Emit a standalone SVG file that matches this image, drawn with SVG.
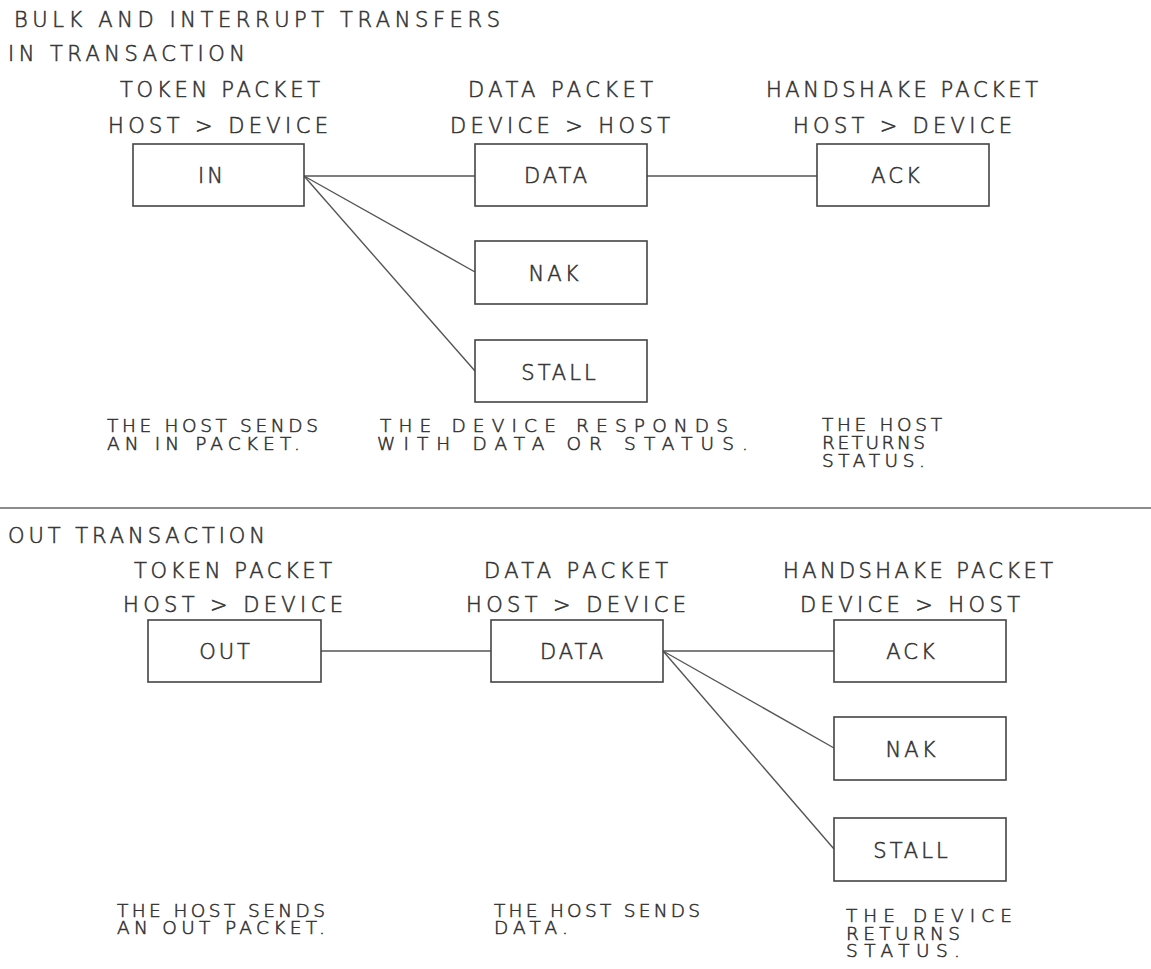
<svg xmlns="http://www.w3.org/2000/svg" width="1151" height="969" viewBox="0 0 1151 969">
  <style>
    text { font-family: "DejaVu Sans", "Liberation Sans", sans-serif; font-size: 21px; fill: #333333; stroke: #333333; stroke-width: 0.55; font-weight: 200; }
    .lbl { text-anchor: middle; letter-spacing: 3px; }
    .note { font-size: 18.5px; }
    .box { fill: #ffffff; stroke: #444444; stroke-width: 1.6; }
    .wire { stroke: #555555; stroke-width: 1.4; fill: none; }
    .rule { stroke: #666666; stroke-width: 1.4; }
  </style>
  <rect width="1151" height="969" fill="#ffffff"/>

  <!-- headings -->
  <g id="headings">
    <text x="14" y="27" textLength="486" lengthAdjust="spacing">BULK AND INTERRUPT TRANSFERS</text>
    <text x="8" y="61" textLength="237" lengthAdjust="spacing">IN TRANSACTION</text>
    <text x="8" y="543" textLength="257" lengthAdjust="spacing">OUT TRANSACTION</text>
  </g>

  <!-- IN transaction column headers -->
  <g id="in-headers">
    <text x="120" y="97" textLength="200" lengthAdjust="spacing">TOKEN PACKET</text>
    <text x="108" y="133" textLength="220" lengthAdjust="spacing">HOST &gt; DEVICE</text>
    <text x="468" y="97" textLength="185" lengthAdjust="spacing">DATA PACKET</text>
    <text x="450" y="133" textLength="220" lengthAdjust="spacing">DEVICE &gt; HOST</text>
    <text x="766" y="97" textLength="272" lengthAdjust="spacing">HANDSHAKE PACKET</text>
    <text x="793" y="133" textLength="219" lengthAdjust="spacing">HOST &gt; DEVICE</text>
  </g>

  <!-- connectors -->
  <g id="connectors">
    <line class="wire" x1="304" y1="176" x2="475" y2="176"/>
    <line class="wire" x1="304" y1="176" x2="475" y2="272"/>
    <line class="wire" x1="304" y1="176" x2="475" y2="371"/>
    <line class="wire" x1="647" y1="176" x2="817" y2="176"/>
    <line class="wire" x1="321" y1="651" x2="491" y2="651"/>
    <line class="wire" x1="663" y1="651" x2="834" y2="651"/>
    <line class="wire" x1="663" y1="651" x2="834" y2="748"/>
    <line class="wire" x1="663" y1="651" x2="834" y2="849"/>
  </g>

  <!-- IN transaction nodes -->
  <g id="in-token">
    <rect class="box" x="133" y="144" width="171" height="62"/>
    <text class="lbl" x="212" y="183">IN</text>
  </g>
  <g id="in-data">
    <rect class="box" x="475" y="144" width="172" height="62"/>
    <text class="lbl" x="557" y="183">DATA</text>
  </g>
  <g id="in-ack">
    <rect class="box" x="817" y="144" width="172" height="62"/>
    <text class="lbl" x="897" y="183">ACK</text>
  </g>
  <g id="in-nak">
    <rect class="box" x="475" y="241" width="172" height="63"/>
    <text class="lbl" x="555" y="281">NAK</text>
  </g>
  <g id="in-stall">
    <rect class="box" x="475" y="340" width="172" height="62"/>
    <text class="lbl" x="560" y="380">STALL</text>
  </g>

  <!-- IN transaction notes -->
  <g id="in-notes">
    <text class="note">
      <tspan x="107" y="432" textLength="211" lengthAdjust="spacing">THE HOST SENDS</tspan>
      <tspan x="107" y="450" textLength="193" lengthAdjust="spacing">AN IN PACKET.</tspan>
    </text>
    <text class="note">
      <tspan x="380" y="432" textLength="348" lengthAdjust="spacing">THE DEVICE RESPONDS</tspan>
      <tspan x="377" y="450" textLength="371" lengthAdjust="spacing">WITH DATA OR STATUS.</tspan>
    </text>
    <text class="note">
      <tspan x="822" y="431" textLength="120" lengthAdjust="spacing">THE HOST</tspan>
      <tspan x="822" y="449" textLength="103" lengthAdjust="spacing">RETURNS</tspan>
      <tspan x="822" y="467" textLength="103" lengthAdjust="spacing">STATUS.</tspan>
    </text>
  </g>

  <!-- section divider -->
  <line class="rule" x1="0" y1="508" x2="1151" y2="508"/>

  <!-- OUT transaction column headers -->
  <g id="out-headers">
    <text x="134" y="578" textLength="198" lengthAdjust="spacing">TOKEN PACKET</text>
    <text x="123" y="612" textLength="220" lengthAdjust="spacing">HOST &gt; DEVICE</text>
    <text x="484" y="578" textLength="184" lengthAdjust="spacing">DATA PACKET</text>
    <text x="466" y="612" textLength="220" lengthAdjust="spacing">HOST &gt; DEVICE</text>
    <text x="783" y="578" textLength="270" lengthAdjust="spacing">HANDSHAKE PACKET</text>
    <text x="800" y="612" textLength="220" lengthAdjust="spacing">DEVICE &gt; HOST</text>
  </g>

  <!-- OUT transaction nodes -->
  <g id="out-token">
    <rect class="box" x="148" y="620" width="173" height="62"/>
    <text class="lbl" x="226" y="659">OUT</text>
  </g>
  <g id="out-data">
    <rect class="box" x="491" y="620" width="172" height="62"/>
    <text class="lbl" x="573" y="659">DATA</text>
  </g>
  <g id="out-ack">
    <rect class="box" x="834" y="620" width="172" height="62"/>
    <text class="lbl" x="912" y="659">ACK</text>
  </g>
  <g id="out-nak">
    <rect class="box" x="834" y="717" width="172" height="63"/>
    <text class="lbl" x="912" y="757">NAK</text>
  </g>
  <g id="out-stall">
    <rect class="box" x="834" y="818" width="172" height="63"/>
    <text class="lbl" x="912" y="858">STALL</text>
  </g>

  <!-- OUT transaction notes -->
  <g id="out-notes">
    <text class="note">
      <tspan x="117" y="917" textLength="208" lengthAdjust="spacing">THE HOST SENDS</tspan>
      <tspan x="117" y="934" textLength="208" lengthAdjust="spacing">AN OUT PACKET.</tspan>
    </text>
    <text class="note">
      <tspan x="494" y="917" textLength="206" lengthAdjust="spacing">THE HOST SENDS</tspan>
      <tspan x="494" y="934" textLength="74" lengthAdjust="spacing">DATA.</tspan>
    </text>
    <text class="note">
      <tspan x="846" y="922" textLength="166" lengthAdjust="spacing">THE DEVICE</tspan>
      <tspan x="846" y="940" textLength="114" lengthAdjust="spacing">RETURNS</tspan>
      <tspan x="846" y="957" textLength="114" lengthAdjust="spacing">STATUS.</tspan>
    </text>
  </g>
</svg>
